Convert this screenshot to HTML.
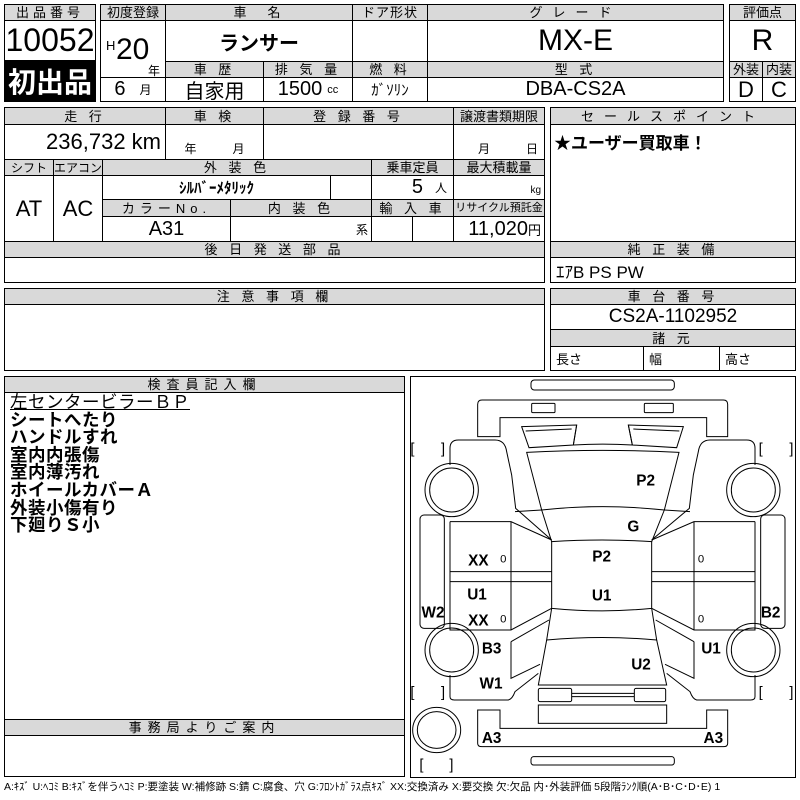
<!DOCTYPE html>
<html><head><meta charset="utf-8">
<style>
body{margin:0;width:800px;height:800px;background:#fff;position:relative;overflow:hidden;font-family:"Liberation Sans","Noto Sans CJK JP",sans-serif;color:#000}
.c{position:absolute;border:1px solid #000;box-sizing:border-box;display:flex;align-items:center;justify-content:center;white-space:nowrap;overflow:hidden}
.h{background:#d9d9d9;font-size:13px;letter-spacing:4px;line-height:1}
.v{font-size:18px}
</style></head><body>
<div class="c h" style="left:4px;top:4px;width:92px;height:17px">出品番号</div>
<div class="c" style="left:4px;top:20px;width:92px;height:41px;font-size:32px">10052</div>
<div class="c" style="left:4px;top:60px;width:92px;height:42px;background:#000;color:#fff;font-size:28px;font-weight:bold">初出品</div>
<div class="c h" style="left:100px;top:4px;width:66px;height:17px;letter-spacing:0">初度登録</div>
<div class="c h" style="left:165px;top:4px;width:188px;height:17px">車　名</div>
<div class="c h" style="left:352px;top:4px;width:76px;height:17px;letter-spacing:1px">ドア形状</div>
<div class="c h" style="left:427px;top:4px;width:297px;height:17px;letter-spacing:10px">グレード</div>
<div class="c" style="left:100px;top:20px;width:66px;height:58px"></div>
<div style="position:absolute;left:106px;top:38px;font-size:13px">H</div>
<div style="position:absolute;left:116px;top:33px;font-size:30px">20</div>
<div style="position:absolute;left:148px;top:62px;font-size:12px">年</div>
<div class="c" style="left:165px;top:20px;width:188px;height:42px;font-size:20px;font-weight:bold">ランサー</div>
<div class="c" style="left:352px;top:20px;width:76px;height:42px"></div>
<div class="c" style="left:427px;top:20px;width:297px;height:42px;font-size:30px">MX-E</div>
<div class="c h" style="left:165px;top:61px;width:99px;height:17px">車 歴</div>
<div class="c h" style="left:263px;top:61px;width:90px;height:17px">排 気 量</div>
<div class="c h" style="left:352px;top:61px;width:76px;height:17px">燃 料</div>
<div class="c h" style="left:427px;top:61px;width:297px;height:17px">型 式</div>
<div class="c" style="left:100px;top:77px;width:66px;height:25px;font-size:20px">6<span style="font-size:12px;margin-left:14px">月</span></div>
<div class="c" style="left:165px;top:77px;width:99px;height:25px;font-size:20px">自家用</div>
<div class="c" style="left:263px;top:77px;width:90px;height:25px;font-size:20px">1500<span style="font-size:11px;margin-left:5px">cc</span></div>
<div class="c" style="left:352px;top:77px;width:76px;height:25px;font-size:15px">ｶﾞｿﾘﾝ</div>
<div class="c" style="left:427px;top:77px;width:297px;height:25px;font-size:20px">DBA-CS2A</div>
<div class="c h" style="left:729px;top:4px;width:67px;height:17px;letter-spacing:0">評価点</div>
<div class="c" style="left:729px;top:20px;width:67px;height:42px;font-size:30px">R</div>
<div class="c h" style="left:729px;top:61px;width:34px;height:17px;letter-spacing:0">外装</div>
<div class="c h" style="left:762px;top:61px;width:34px;height:17px;letter-spacing:0">内装</div>
<div class="c" style="left:729px;top:77px;width:34px;height:25px;font-size:22px">D</div>
<div class="c" style="left:762px;top:77px;width:34px;height:25px;font-size:22px">C</div>
<div class="c h" style="left:4px;top:107px;width:162px;height:18px">走 行</div>
<div class="c h" style="left:165px;top:107px;width:99px;height:18px">車 検</div>
<div class="c h" style="left:263px;top:107px;width:191px;height:18px">登 録 番 号</div>
<div class="c h" style="left:453px;top:107px;width:92px;height:18px;letter-spacing:0">譲渡書類期限</div>
<div class="c" style="left:4px;top:124px;width:162px;height:36px;font-size:22px;justify-content:flex-end;padding-right:4px">236,732 km</div>
<div class="c" style="left:165px;top:124px;width:99px;height:36px;font-size:12px;align-items:flex-end;padding-bottom:2px">年　　　月</div>
<div class="c" style="left:263px;top:124px;width:191px;height:36px"></div>
<div class="c" style="left:453px;top:124px;width:92px;height:36px;font-size:12px;align-items:flex-end;padding-bottom:2px;justify-content:flex-end;padding-right:6px">月　　　日</div>
<div class="c h" style="left:4px;top:159px;width:50px;height:17px;letter-spacing:0;font-size:12px">シフト</div>
<div class="c h" style="left:53px;top:159px;width:50px;height:17px;letter-spacing:0;font-size:12px">エアコン</div>
<div class="c h" style="left:102px;top:159px;width:270px;height:17px">外 装 色</div>
<div class="c h" style="left:371px;top:159px;width:83px;height:17px;letter-spacing:0">乗車定員</div>
<div class="c h" style="left:453px;top:159px;width:92px;height:17px;letter-spacing:0">最大積載量</div>
<div class="c" style="left:4px;top:175px;width:50px;height:67px;font-size:22px">AT</div>
<div class="c" style="left:53px;top:175px;width:50px;height:67px;font-size:22px">AC</div>
<div class="c" style="left:102px;top:175px;width:229px;height:25px;font-size:15px;font-weight:bold">ｼﾙﾊﾞｰﾒﾀﾘｯｸ</div>
<div class="c" style="left:330px;top:175px;width:42px;height:25px"></div>
<div class="c" style="left:371px;top:175px;width:83px;height:25px;font-size:20px;justify-content:flex-end;padding-right:6px">5<span style="font-size:12px;margin-left:12px">人</span></div>
<div class="c" style="left:453px;top:175px;width:92px;height:25px;font-size:10px;justify-content:flex-end;align-items:flex-end;padding:0 3px 3px 0">kg</div>
<div class="c h" style="left:102px;top:199px;width:129px;height:18px;letter-spacing:5px">カラーNo.</div>
<div class="c h" style="left:230px;top:199px;width:142px;height:18px">内 装 色</div>
<div class="c h" style="left:371px;top:199px;width:83px;height:18px">輸 入 車</div>
<div class="c h" style="left:453px;top:199px;width:92px;height:18px;letter-spacing:0;font-size:11px">リサイクル預託金</div>
<div class="c" style="left:102px;top:216px;width:129px;height:26px;font-size:20px">A31</div>
<div class="c" style="left:230px;top:216px;width:142px;height:26px;font-size:12px;justify-content:flex-end;align-items:flex-end;padding:0 3px 3px 0">系</div>
<div class="c" style="left:371px;top:216px;width:42px;height:26px"></div>
<div class="c" style="left:412px;top:216px;width:42px;height:26px"></div>
<div class="c" style="left:453px;top:216px;width:92px;height:26px;font-size:20px;justify-content:flex-end;padding-right:3px">11,020<span style="font-size:13px">円</span></div>
<div class="c h" style="left:4px;top:241px;width:541px;height:17px">後 日 発 送 部 品</div>
<div class="c" style="left:4px;top:257px;width:541px;height:26px"></div>
<div class="c h" style="left:550px;top:107px;width:246px;height:18px;letter-spacing:10px">セールスポイント</div>
<div class="c" style="left:550px;top:124px;width:246px;height:118px;align-items:flex-start;justify-content:flex-start;font-size:17px;font-weight:bold;padding:4px 0 0 3px">★ユーザー買取車！</div>
<div class="c h" style="left:550px;top:241px;width:246px;height:17px">純 正 装 備</div>
<div class="c" style="left:550px;top:257px;width:246px;height:26px;font-size:17px;justify-content:flex-start;padding-left:5px">ｴｱB PS PW</div>
<div class="c h" style="left:4px;top:288px;width:541px;height:17px">注 意 事 項 欄</div>
<div class="c" style="left:4px;top:304px;width:541px;height:67px"></div>
<div class="c h" style="left:550px;top:288px;width:246px;height:17px">車 台 番 号</div>
<div class="c" style="left:550px;top:304px;width:246px;height:26px;font-size:19px">CS2A-1102952</div>
<div class="c h" style="left:550px;top:329px;width:246px;height:18px">諸 元</div>
<div class="c" style="left:550px;top:346px;width:94px;height:25px;font-size:13px;justify-content:flex-start;padding-left:5px">長さ</div>
<div class="c" style="left:643px;top:346px;width:77px;height:25px;font-size:13px;justify-content:flex-start;padding-left:5px">幅</div>
<div class="c" style="left:719px;top:346px;width:77px;height:25px;font-size:13px;justify-content:flex-start;padding-left:5px">高さ</div>
<div class="c" style="left:4px;top:376px;width:401px;height:401px"></div>
<div class="c h" style="left:4px;top:376px;width:401px;height:17px;letter-spacing:6px">検査員記入欄</div>
<div style="position:absolute;left:10px;top:394px;font-size:17.5px;line-height:17.6px;font-weight:bold;letter-spacing:0.5px">
<div style="text-decoration:underline;font-weight:normal">左センタービラーＢＰ</div>
<div>シートへたり</div><div>ハンドルすれ</div><div>室内内張傷</div><div>室内薄汚れ</div><div>ホイールカバーＡ</div><div>外装小傷有り</div><div>下廻りＳ小</div>
</div>
<div class="c h" style="left:4px;top:719px;width:401px;height:17px;letter-spacing:6px">事務局よりご案内</div>
<div class="c" style="left:410px;top:376px;width:386px;height:402px"></div>
<svg style="position:absolute;left:405px;top:375px" width="395" height="420" viewBox="0 0 1185 1260">
<g fill="none" stroke="#000" stroke-width="3">
<rect x="378" y="15" width="430" height="30" rx="10"/>
<rect x="380" y="85" width="70" height="28" rx="3"/>
<rect x="718" y="85" width="87" height="28" rx="3"/>
<path d="M218,185 L218,88 Q218,75 231,75 L955,75 Q968,75 968,88 L968,185 L905,185 L905,128 L285,128 L285,185 Z"/>
<path d="M350,155 L515,150 L505,210 L372,218 Z M362,168 L500,162"/>
<path d="M835,155 L670,150 L682,210 L815,218 Z M823,168 L685,162"/>
<path d="M515,150 L505,210 Q593,205 682,210 L670,150"/>
<path d="M365,232 Q593,220 822,232 L778,405 Q593,385 410,405 Z"/>
<path d="M410,405 L440,500 Q593,490 740,500 L778,405"/>
<path d="M440,500 L440,700 Q593,715 740,700 L740,500"/>
<path d="M440,700 L425,795 Q593,780 755,795 L740,700"/>
<path d="M425,795 L400,930 L785,930 L755,795"/>
<rect x="400" y="940" width="100" height="40" rx="5"/>
<rect x="688" y="940" width="94" height="40" rx="5"/>
<path d="M500,955 L688,955 M500,965 L688,965"/>
<rect x="400" y="990" width="385" height="55"/>
<path d="M218,1005 L218,1105 Q218,1115 231,1115 L955,1115 Q968,1115 968,1105 L968,1005 L905,1005 L905,1060 L285,1060 L285,1005 Z"/>
<rect x="378" y="1145" width="430" height="25" rx="8"/>
<path d="M135,270 L135,220 Q135,195 160,195 L270,195 Q300,195 305,230 L320,300 L332,400 L440,495"/>
<path d="M330,410 L410,405"/>
<path d="M855,410 L778,405"/>
<path d="M1050,270 L1050,220 Q1050,195 1025,195 L915,195 Q885,195 880,230 L865,300 L853,400 L740,495"/>
<rect x="45" y="420" width="73" height="340" rx="12"/>
<rect x="1067" y="420" width="73" height="340" rx="12"/>
<path d="M135,440 L318,440 L440,495 M135,590 L440,590 M135,620 L440,620 M318,440 L318,765 M135,440 L135,765 L318,765 L440,700 M318,590 L318,620"/>
<path d="M1050,440 L867,440 L740,495 M1050,590 L740,590 M1050,620 L740,620 M867,440 L867,765 M1050,440 L1050,765 L867,765 L740,700"/>
<path d="M318,800 L432,735 M318,800 L318,910 L405,868 M135,900 L135,965 Q135,975 148,975 L310,975 Q322,972 330,950 L400,895"/>
<path d="M867,800 L752,735 M867,800 L867,910 L780,868 M1050,900 L1050,965 Q1050,975 1037,975 L875,975 Q863,972 855,950 L785,895"/>
<circle cx="140" cy="345" r="80"/><circle cx="140" cy="345" r="66"/>
<circle cx="1045" cy="345" r="80"/><circle cx="1045" cy="345" r="66"/>
<circle cx="140" cy="825" r="80"/><circle cx="140" cy="825" r="66"/>
<circle cx="1045" cy="825" r="80"/><circle cx="1045" cy="825" r="66"/>
<ellipse cx="95" cy="1065" rx="72" ry="68"/><ellipse cx="95" cy="1065" rx="58" ry="55"/>
</g>
<g font-family="Liberation Sans, sans-serif" font-size="44" fill="#000">
<text x="16" y="236">[</text><text x="108" y="236">]</text>
<text x="1061" y="236">[</text><text x="1153" y="236">]</text>
<text x="16" y="966">[</text><text x="108" y="966">]</text>
<text x="1061" y="966">[</text><text x="1153" y="966">]</text>
<text x="43" y="1183">[</text><text x="133" y="1183">]</text>
</g>
<g font-family="Liberation Sans, sans-serif" font-size="46" font-weight="bold" fill="#000" text-anchor="middle">
<text x="722" y="332">P2</text>
<text x="685" y="470">G</text>
<text x="590" y="560">P2</text>
<text x="590" y="677">U1</text>
<text x="220" y="572">XX</text>
<text x="216" y="673">U1</text>
<text x="220" y="752">XX</text>
<text x="84" y="728">W2</text>
<text x="1097" y="728">B2</text>
<text x="260" y="835">B3</text>
<text x="918" y="835">U1</text>
<text x="708" y="883">U2</text>
<text x="258" y="941">W1</text>
<text x="260" y="1104">A3</text>
<text x="925" y="1104">A3</text>
</g>
<g font-family="Liberation Sans, sans-serif" font-size="34" fill="#000" text-anchor="middle">
<text x="295" y="563">0</text><text x="295" y="743">0</text>
<text x="888" y="563">0</text><text x="888" y="743">0</text>
</g>
</svg>
<div style="position:absolute;left:4px;top:779px;font-size:10.5px;white-space:nowrap;letter-spacing:0">A:ｷｽﾞ U:ﾍｺﾐ B:ｷｽﾞを伴うﾍｺﾐ P:要塗装 W:補修跡 S:錆 C:腐食、穴 G:ﾌﾛﾝﾄｶﾞﾗｽ点ｷｽﾞ XX:交換済み X:要交換 欠:欠品 内･外装評価 5段階ﾗﾝｸ順(A･B･C･D･E) 1</div>
</body></html>
